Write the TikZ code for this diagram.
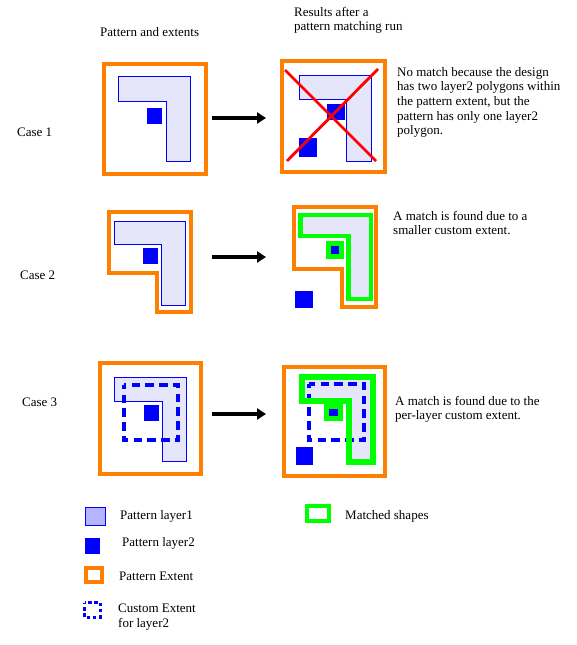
\documentclass[tikz,border=0pt]{standalone}
\usepackage{fontspec}
\setmainfont{Liberation Serif}
\usetikzlibrary{arrows.meta}
\definecolor{orng}{RGB}{255,128,0}
\definecolor{lav}{RGB}{230,230,250}
\definecolor{lavleg}{RGB}{180,180,255}
\definecolor{lime}{RGB}{0,255,0}
\definecolor{xred}{RGB}{255,0,0}
\tikzset{
  extbox/.style={draw=orng, line width=3.8pt},
  layone/.style={fill=lav, draw=blue, line width=0.8pt},
  laytwo/.style={fill=blue, draw=none},
  custext/.style={draw=blue, line width=3.5pt, dash pattern=on 8.5pt off 5.25pt, dash phase=4.25pt},
  matchline/.style={draw=lime, line join=miter, line width=4.5pt},
  matchfill/.style={fill=lime, draw=none},
  arr/.style={-{Triangle[length=9pt,width=11pt]}, line width=3.3pt, black},
  crossline/.style={draw=xred, line width=2.8pt},
  txt/.style={font=\fontsize{13}{14.6}\selectfont, inner sep=0pt, text=black},
  lbl/.style={txt, anchor=west},
  blk/.style={txt, anchor=north west, align=left},
}
\begin{document}
\begin{tikzpicture}[x=1pt,y=-1pt]
\useasboundingbox (0,0) rectangle (576,645);
% headers
\node[lbl] (h1) at (100,32) {Pattern and extents};
\node[blk] (h2) at (294,7) {Results after a\\pattern matching run};
% case labels
\node[lbl] (c1) at (17,132) {Case 1};
\node[lbl] (c2) at (20,275) {Case 2};
\node[lbl] (c3) at (22,402) {Case 3};

% ---------------- Case 1 ----------------
\draw[extbox] (104,64) rectangle (206,174);
\draw[layone] (118,76) -- (190,76) -- (190,161) -- (166,161) -- (166,101) -- (118,101) -- cycle;
\fill[laytwo] (147,108) rectangle (162,124);
\coordinate (a1s) at (212,118);
\coordinate (a1e) at (266,118);
\draw[arr] (a1s) -- (a1e);
\draw[extbox] (282,61) rectangle (385,172);
\draw[layone] (299,75) -- (371,75) -- (371,161) -- (346,161) -- (346,99) -- (299,99) -- cycle;
\fill[laytwo] (327,104) rectangle (345,120);
\fill[laytwo] (299,138) rectangle (317,157);
\coordinate (x1a) at (285,70);
\coordinate (x1b) at (376,161);
\coordinate (x2a) at (378,69);
\coordinate (x2b) at (287,161);
\draw[crossline] (x1a) -- (x1b);
\draw[crossline] (x2a) -- (x2b);
\node[blk] (t1) at (397,67) {No match because the design\\has two layer2 polygons within\\the pattern extent, but the\\pattern has only one layer2\\polygon.};

% ---------------- Case 2 ----------------
\draw[extbox] (109,212) -- (191,212) -- (191,312) -- (157,312) -- (157,273) -- (109,273) -- cycle;
\draw[layone] (114,221) -- (185,221) -- (185,305) -- (161,305) -- (161,244) -- (114,244) -- cycle;
\fill[laytwo] (143,248) rectangle (158,264);
\coordinate (a2s) at (212,257);
\coordinate (a2e) at (266,257);
\draw[arr] (a2s) -- (a2e);
\draw[extbox] (294,207) -- (376,207) -- (376,307) -- (342,307) -- (342,269) -- (294,269) -- cycle;
\draw[matchline, fill=lav] (300.5,215) -- (371,215) -- (371,299) -- (348.5,299) -- (348.5,236) -- (300.5,236) -- cycle;
\fill[matchfill] (326,241) rectangle (344,259);
\fill[laytwo] (331,246) rectangle (339,254);
\fill[laytwo] (295,291) rectangle (313,308);
\node[blk] (t2) at (393,211) {A match is found due to a\\smaller custom extent.};

% ---------------- Case 3 ----------------
\draw[extbox] (100,363) rectangle (201,474);
\draw[layone] (114,377) -- (186,377) -- (186,461) -- (162,461) -- (162,401) -- (114,401) -- cycle;
\draw[custext] (124,385) rectangle (178,440);
\fill[laytwo] (144,405) rectangle (159,421);
\coordinate (a3s) at (212,414);
\coordinate (a3e) at (266,414);
\draw[arr] (a3s) -- (a3e);
\draw[extbox] (284,367) rectangle (385,476);
\fill[lav] (302,377) -- (372.5,377) -- (372.5,462) -- (349,462) -- (349,400.5) -- (302,400.5) -- cycle;
\draw[custext] (309,384) rectangle (364,440);
\draw[matchline, line width=6pt] (302,377) -- (372.5,377) -- (372.5,462) -- (349,462) -- (349,400.5) -- (302,400.5) -- cycle;
\fill[matchfill] (324,398) rectangle (343,421);
\fill[laytwo] (329,409) rectangle (338,416);
\fill[laytwo] (296,447) rectangle (313,465);
\node[blk] (t3) at (395,396) {A match is found due to the\\per-layer custom extent.};

% ---------------- Legend ----------------
\draw[fill=lavleg, draw=blue, line width=0.8pt] (85,507) rectangle (105,525);
\node[lbl] (l1) at (120,516) {Pattern layer1};
\fill[laytwo] (85,538) rectangle (100,554);
\node[lbl] (l2) at (122,543) {Pattern layer2};
\draw[extbox] (86,568) rectangle (102,582);
\node[lbl] (l3) at (119,576) {Pattern Extent};
\draw[draw=blue, line width=3pt, dash pattern=on 3.5pt off 2.8pt, dash phase=1.75pt] (84.5,602.5) rectangle (100.5,617.5);
\node[blk] (l4) at (118,604) {Custom Extent\\for layer2};
\draw[draw=lime, line width=4pt] (307,506) rectangle (329,521);
\node[lbl] (l5) at (345,516) {Matched shapes};
\end{tikzpicture}
\end{document}
